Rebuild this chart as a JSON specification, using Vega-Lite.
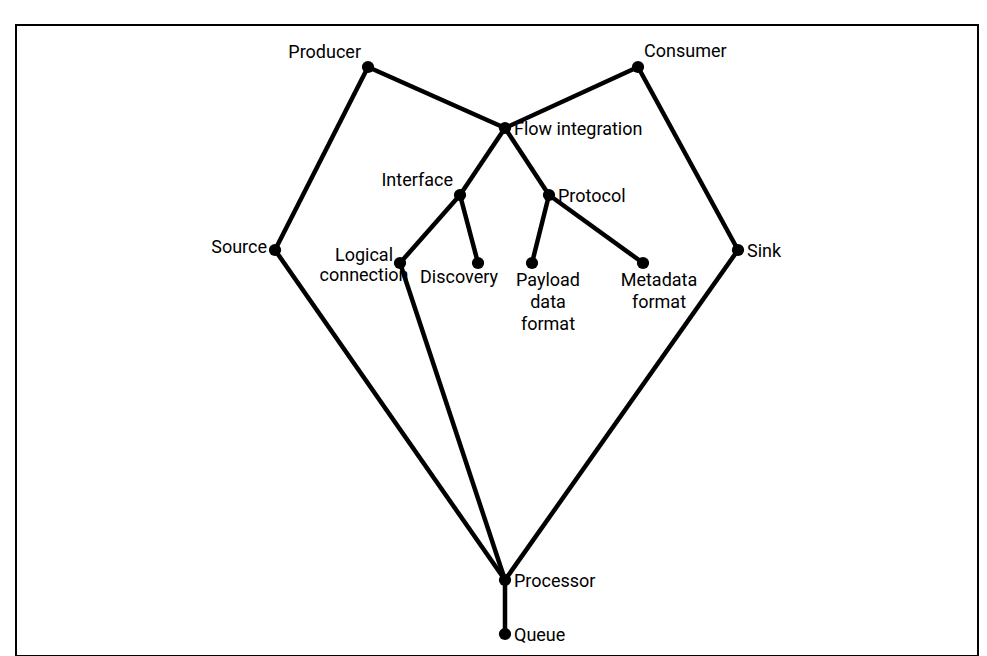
{
  "$schema": "https://vega.github.io/schema/vega-lite/v6.json",
  "width": 962,
  "height": 631,
  "padding": {"left": 16, "top": 25, "right": 9, "bottom": 0},
  "autosize": {"type": "none"},
  "background": "white",
  "config": {"view": {"stroke": "black", "strokeWidth": 2}, "text": {"font": "Roboto", "fontSize": 18}},
  "datasets": {
    "nodes": [
      {"name": "Producer", "x": 368, "y": 67, "grp": "A"},
      {"name": "Consumer", "x": 638, "y": 67, "grp": "B"},
      {"name": "Flow integration", "x": 505, "y": 128, "grp": "C"},
      {"name": "Interface", "x": 460, "y": 195, "grp": "A"},
      {"name": "Protocol", "x": 549, "y": 195, "grp": "C"},
      {"name": "Source", "x": 275, "y": 250, "grp": "D"},
      {"name": "Logical\nconnection", "x": 400, "y": 263, "grp": "F"},
      {"name": "Discovery", "x": 478, "y": 263, "grp": "E"},
      {"name": "Payload\ndata\nformat", "x": 532, "y": 263, "grp": "G"},
      {"name": "Metadata\nformat", "x": 643, "y": 263, "grp": "G"},
      {"name": "Sink", "x": 738, "y": 250, "grp": "C"},
      {"name": "Processor", "x": 505, "y": 580, "grp": "C"},
      {"name": "Queue", "x": 505, "y": 634, "grp": "C"}
    ],
    "edges": [
      {"e": 1, "o": 0, "x": 368, "y": 67}, {"e": 1, "o": 1, "x": 505, "y": 128},
      {"e": 2, "o": 0, "x": 638, "y": 67}, {"e": 2, "o": 1, "x": 505, "y": 128},
      {"e": 3, "o": 0, "x": 368, "y": 67}, {"e": 3, "o": 1, "x": 275, "y": 250},
      {"e": 4, "o": 0, "x": 638, "y": 67}, {"e": 4, "o": 1, "x": 738, "y": 250},
      {"e": 5, "o": 0, "x": 505, "y": 128}, {"e": 5, "o": 1, "x": 460, "y": 195},
      {"e": 6, "o": 0, "x": 505, "y": 128}, {"e": 6, "o": 1, "x": 549, "y": 195},
      {"e": 7, "o": 0, "x": 460, "y": 195}, {"e": 7, "o": 1, "x": 400, "y": 263},
      {"e": 8, "o": 0, "x": 460, "y": 195}, {"e": 8, "o": 1, "x": 478, "y": 263},
      {"e": 9, "o": 0, "x": 549, "y": 195}, {"e": 9, "o": 1, "x": 532, "y": 263},
      {"e": 10, "o": 0, "x": 549, "y": 195}, {"e": 10, "o": 1, "x": 643, "y": 263},
      {"e": 11, "o": 0, "x": 275, "y": 250}, {"e": 11, "o": 1, "x": 505, "y": 580},
      {"e": 12, "o": 0, "x": 400, "y": 263}, {"e": 12, "o": 1, "x": 505, "y": 580},
      {"e": 13, "o": 0, "x": 738, "y": 250}, {"e": 13, "o": 1, "x": 505, "y": 580},
      {"e": 14, "o": 0, "x": 505, "y": 580}, {"e": 14, "o": 1, "x": 505, "y": 634}
    ]
  },
  "encoding": {
    "x": {"field": "x", "type": "quantitative", "scale": {"domain": [16, 978]}, "axis": null},
    "y": {"field": "y", "type": "quantitative", "scale": {"domain": [25, 656], "reverse": true}, "axis": null}
  },
  "layer": [
    {
      "data": {"name": "edges"},
      "mark": {"type": "line", "color": "black", "strokeWidth": 4.5},
      "encoding": {"detail": {"field": "e"}, "order": {"field": "o"}}
    },
    {
      "data": {"name": "nodes"},
      "layer": [
        {"mark": {"type": "circle", "color": "black", "opacity": 1, "size": 150}},
        {"transform": [{"filter": "datum.grp == 'A'"}],
         "mark": {"type": "text", "align": "right", "baseline": "middle", "dx": -7, "dy": -14},
         "encoding": {"text": {"field": "name"}}},
        {"transform": [{"filter": "datum.grp == 'B'"}],
         "mark": {"type": "text", "align": "left", "baseline": "middle", "dx": 6, "dy": -15},
         "encoding": {"text": {"field": "name"}}},
        {"transform": [{"filter": "datum.grp == 'C'"}],
         "mark": {"type": "text", "align": "left", "baseline": "middle", "dx": 9, "dy": 2},
         "encoding": {"text": {"field": "name"}}},
        {"transform": [{"filter": "datum.grp == 'D'"}],
         "mark": {"type": "text", "align": "right", "baseline": "middle", "dx": -8, "dy": -2},
         "encoding": {"text": {"field": "name"}}},
        {"transform": [{"filter": "datum.grp == 'E'"}],
         "mark": {"type": "text", "align": "left", "baseline": "middle", "dx": -58, "dy": 15},
         "encoding": {"text": {"field": "name"}}},
        {"transform": [{"filter": "datum.grp == 'F'"}],
         "mark": {"type": "text", "align": "center", "baseline": "top", "dx": -36, "dy": -16, "lineHeight": 20, "lineBreak": "\n"},
         "encoding": {"text": {"field": "name"}}},
        {"transform": [{"filter": "datum.grp == 'G'"}],
         "mark": {"type": "text", "align": "center", "baseline": "top", "dx": 16, "dy": 9, "lineHeight": 22, "lineBreak": "\n"},
         "encoding": {"text": {"field": "name"}}}
      ]
    }
  ]
}
